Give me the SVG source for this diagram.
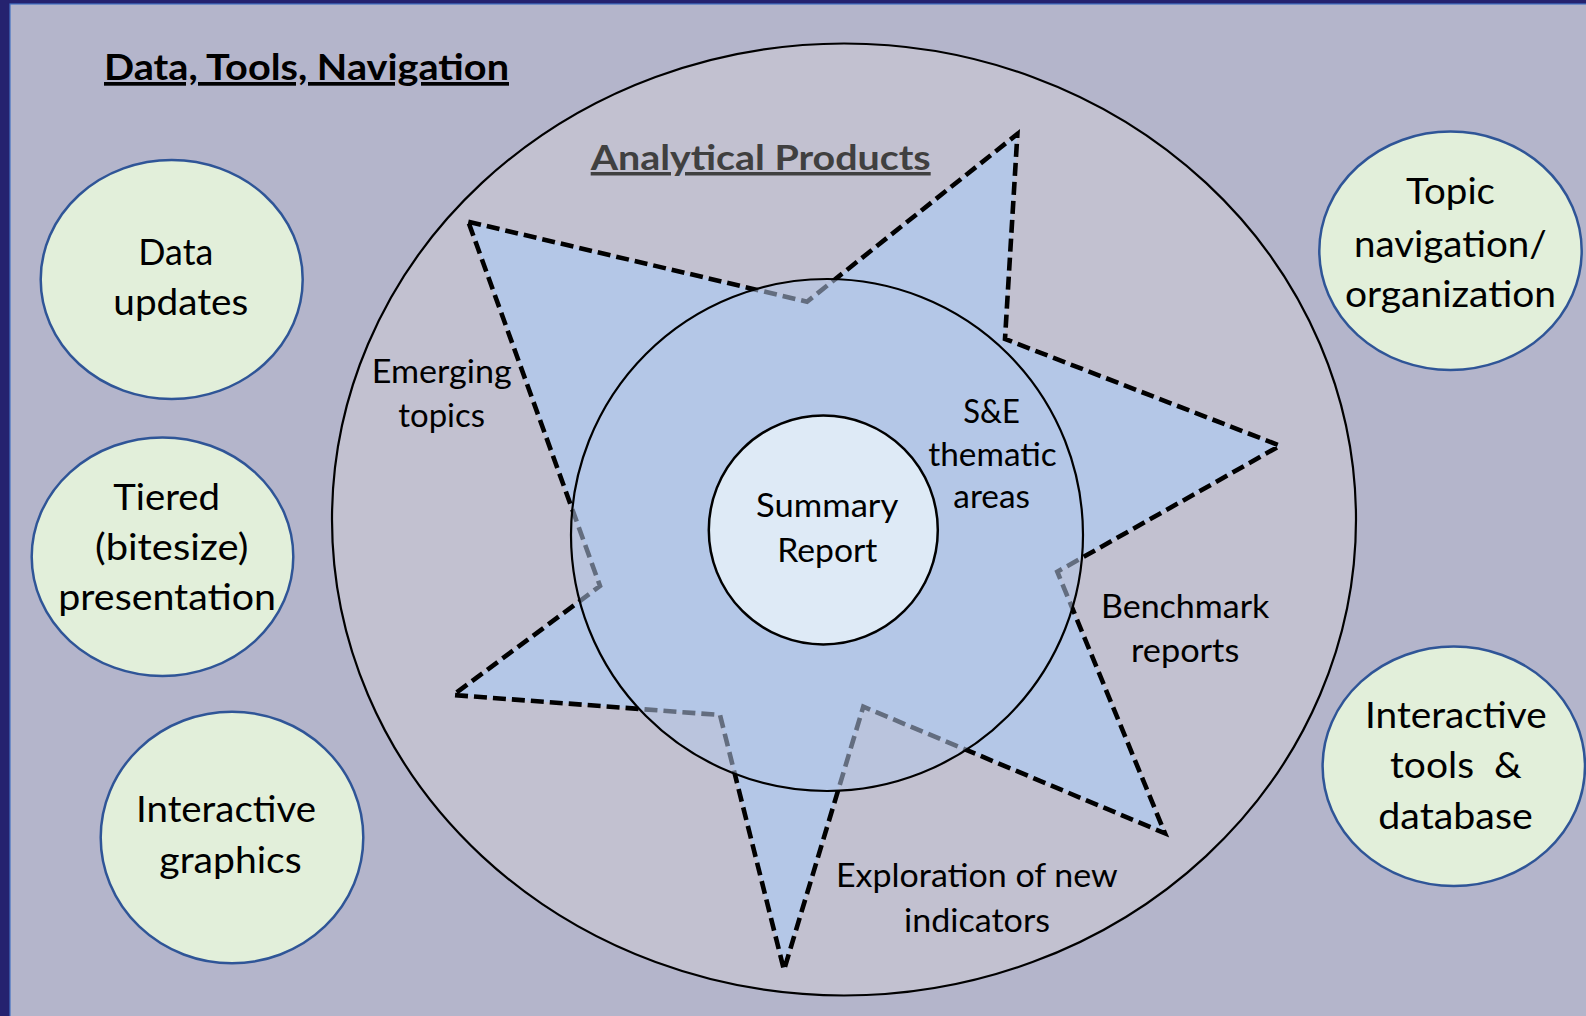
<svg xmlns="http://www.w3.org/2000/svg" width="1586" height="1016" viewBox="0 0 1586 1016">
<style>
.lbl{font-family:Lato,"Liberation Sans",sans-serif;fill:#000;white-space:pre}
.big{font-size:36px}
.small{font-size:32px}
.head{font-family:Lato,"Liberation Sans",sans-serif;font-weight:bold;font-size:37px;text-decoration:underline}
.green{fill:#E2EFDA;stroke:#2F5597;stroke-width:2.5}
</style>
<rect x="0" y="0" width="1586" height="1016" fill="#25226F"/>
<rect x="10" y="4" width="1590" height="1030" fill="#B4B5CB" stroke="#4472C4" stroke-width="1.2"/>
<g id="title">
<text class="head" x="104" y="80" textLength="405" lengthAdjust="spacingAndGlyphs" fill="#000">Data, Tools, Navigation</text>
</g>
<g id="analytical-products">
<ellipse cx="844" cy="519.5" rx="512" ry="476" fill="#C2C1D0" stroke="#000" stroke-width="2.2"/>
<text class="head" x="590.7" y="170" textLength="340" lengthAdjust="spacingAndGlyphs" fill="#404040" style="font-size:35px">Analytical Products</text>
</g>
<g id="star">
<path d="M468.3,221.7 L807,301.7 L1017.4,134 L1005,339 L1280,445.7 L1057.3,571.7 L1165,833.3 L863.3,706.7 L784,970 L720,715 L453.3,695 L600,586 Z" fill="#B4C7E7" stroke="#000" stroke-width="4.6" stroke-dasharray="13 6" stroke-linejoin="miter" stroke-miterlimit="20"/>
</g>
<g id="thematic-areas">
<circle cx="827" cy="535" r="256" fill="#B4C7E7" fill-opacity="0.55" stroke="#000" stroke-width="2.2"/>
</g>
<g id="summary-report">
<circle cx="823.3" cy="530" r="114.5" fill="#DEEAF6" stroke="#000" stroke-width="2.5"/>
<text class="lbl small" x="756" y="516.7" textLength="142.3" lengthAdjust="spacingAndGlyphs">Summary</text>
<text class="lbl small" x="777.3" y="561.7" textLength="100" lengthAdjust="spacingAndGlyphs">Report</text>
</g>
<g id="label-emerging">
<text class="lbl small" x="371.7" y="382.7" textLength="140" lengthAdjust="spacingAndGlyphs">Emerging</text>
<text class="lbl small" x="398.3" y="427.3" textLength="86.7" lengthAdjust="spacingAndGlyphs">topics</text>
</g>
<g id="label-se">
<text class="lbl small" x="963.3" y="423.3" textLength="56.7" lengthAdjust="spacingAndGlyphs">S&amp;E</text>
<text class="lbl small" x="928.3" y="465.7" textLength="128.4" lengthAdjust="spacingAndGlyphs">thematic</text>
<text class="lbl small" x="953.3" y="508.3" textLength="76.7" lengthAdjust="spacingAndGlyphs">areas</text>
</g>
<g id="label-benchmark">
<text class="lbl small" x="1101" y="618.3" textLength="168.3" lengthAdjust="spacingAndGlyphs">Benchmark</text>
<text class="lbl small" x="1131" y="661.7" textLength="108.3" lengthAdjust="spacingAndGlyphs">reports</text>
</g>
<g id="label-exploration">
<text class="lbl small" x="836" y="887.3" textLength="281.7" lengthAdjust="spacingAndGlyphs">Exploration of new</text>
<text class="lbl small" x="904" y="931.7" textLength="146" lengthAdjust="spacingAndGlyphs">indicators</text>
</g>
<g id="data-updates">
<ellipse class="green" cx="171.7" cy="279.5" rx="131" ry="119.5"/>
<text class="lbl big" x="138.3" y="265" textLength="75" lengthAdjust="spacingAndGlyphs">Data</text>
<text class="lbl big" x="113.3" y="315" textLength="135" lengthAdjust="spacingAndGlyphs">updates</text>
</g>
<g id="tiered-presentation">
<ellipse class="green" cx="162.5" cy="556.7" rx="130.8" ry="119.3"/>
<text class="lbl big" x="113.3" y="510" textLength="106.7" lengthAdjust="spacingAndGlyphs">Tiered</text>
<text class="lbl big" x="95" y="560" textLength="153.3" lengthAdjust="spacingAndGlyphs">(bitesize)</text>
<text class="lbl big" x="58.3" y="610" textLength="217.7" lengthAdjust="spacingAndGlyphs">presentation</text>
</g>
<g id="interactive-graphics">
<ellipse class="green" cx="232" cy="837.5" rx="131.3" ry="125.8"/>
<text class="lbl big" x="136" y="821.7" textLength="180" lengthAdjust="spacingAndGlyphs">Interactive</text>
<text class="lbl big" x="159.3" y="872.7" textLength="142.4" lengthAdjust="spacingAndGlyphs">graphics</text>
</g>
<g id="topic-navigation">
<ellipse class="green" cx="1450.5" cy="250.8" rx="131.2" ry="119.2"/>
<text class="lbl big" x="1406" y="204" textLength="89" lengthAdjust="spacingAndGlyphs">Topic</text>
<text class="lbl big" x="1354" y="256.7" textLength="192.7" lengthAdjust="spacingAndGlyphs">navigation/</text>
<text class="lbl big" x="1345" y="306.7" textLength="211" lengthAdjust="spacingAndGlyphs">organization</text>
</g>
<g id="interactive-tools">
<ellipse class="green" cx="1453.8" cy="766.3" rx="131.2" ry="119.7"/>
<text class="lbl big" x="1365" y="727.7" textLength="181.7" lengthAdjust="spacingAndGlyphs">Interactive</text>
<text class="lbl big" x="1390" y="778.3" textLength="131.7" lengthAdjust="spacingAndGlyphs">tools  &amp;</text>
<text class="lbl big" x="1378.3" y="829" textLength="154.4" lengthAdjust="spacingAndGlyphs">database</text>
</g>
<g id="connectors"></g>
</svg>
